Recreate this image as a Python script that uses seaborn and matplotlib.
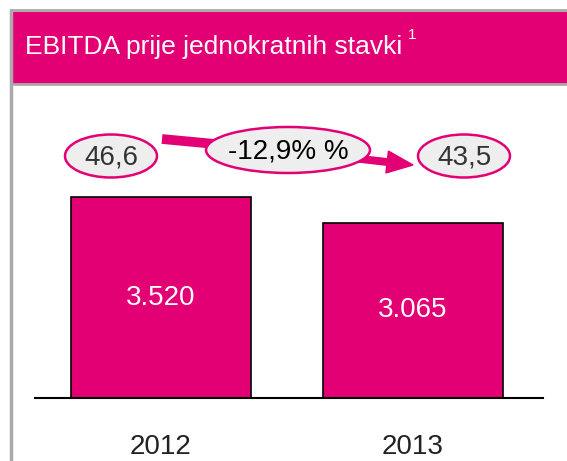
import matplotlib
matplotlib.use("Agg")
import matplotlib.pyplot as plt
import seaborn as sns
import pandas as pd
from matplotlib.patches import Ellipse, Rectangle, FancyArrow

# podaci
godine = ["2012", "2013"]
ebitda = [3520, 3065]
ebitda_oznake = ["3.520", "3.065"]
marze = ["46,6", "43,5"]
promjena = "-12,9% %"
naslov = "EBITDA prije jednokratnih stavki"

magenta = "#E20074"
sivo = "#AAAAAA"

sns.set_theme(style="white")
plt.rcParams["font.family"] = ["Liberation Sans Narrow", "Liberation Sans", "DejaVu Sans"]

W, H = 567, 461
fig = plt.figure(figsize=(W / 100, H / 100), dpi=100)

# pozadina / okvir u pikselima
bg = fig.add_axes([0, 0, 1, 1])
bg.set_xlim(0, W)
bg.set_ylim(H, 0)
bg.axis("off")
bg.add_patch(Rectangle((12, 12), W - 12, 71, color=magenta, zorder=1))
bg.plot([11, 11], [10, H], color=sivo, lw=2.5, zorder=2)
bg.plot([11, W], [10.5, 10.5], color=sivo, lw=2, zorder=2)
bg.plot([11, W], [84, 84], color=sivo, lw=2, zorder=2)
t = bg.text(25, 47, naslov, color="white", fontsize=19, va="center", ha="left")
fig.canvas.draw()
kraj = t.get_window_extent().x1
bg.text(kraj + 6, 35, "1", color="white", fontsize=11, va="center", ha="left")

# stupci
df = pd.DataFrame({"godina": godine, "ebitda": ebitda})
x0, x1 = 35 / W, 543 / W
yb, yt = (H - 398) / H, (H - 120) / H
ax = fig.add_axes([x0, yb, x1 - x0, yt - yb])
sns.barplot(data=df, x="godina", y="ebitda", color=magenta, saturation=1,
            width=0.714, edgecolor="black", linewidth=1.2, ax=ax)
ax.set_xlim(-0.5, 1.516)
ax.set_ylim(0, 3520 * 278 / 201)
ax.patch.set_alpha(0)
for s in ["top", "right", "left"]:
    ax.spines[s].set_visible(False)
ax.spines["bottom"].set_color("black")
ax.spines["bottom"].set_linewidth(1.5)
ax.set_yticks([])
ax.set_xlabel("")
ax.set_ylabel("")
ax.tick_params(axis="x", length=0, pad=26, labelsize=20, labelcolor="#222222")
for i, (v, s) in enumerate(zip(ebitda, ebitda_oznake)):
    ax.text(i, v * 0.5, s, color="white", fontsize=20, ha="center", va="center")

# strelica i elipse marže
bg.plot([162, 300], [139, 152], color=magenta, lw=7, solid_capstyle="butt", zorder=3)
bg.add_patch(FancyArrow(300, 152, 113, 13, width=6.5, head_width=22, head_length=26,
                        length_includes_head=True, color=magenta, zorder=3))
for cx, cy, w, h, s, fs, c in [(111, 156, 92, 43, marze[0], 20, "#333333"),
                               (464, 156, 92, 43, marze[1], 20, "#333333"),
                               (288, 150, 164, 46, promjena, 20, "black")]:
    bg.add_patch(Ellipse((cx, cy), w, h, facecolor="#EEEEEE", edgecolor=magenta,
                         lw=1.8, zorder=4))
    bg.text(cx, cy + 1, s, color=c, fontsize=fs, ha="center", va="center", zorder=5)

fig.savefig("out.png", dpi=100)
